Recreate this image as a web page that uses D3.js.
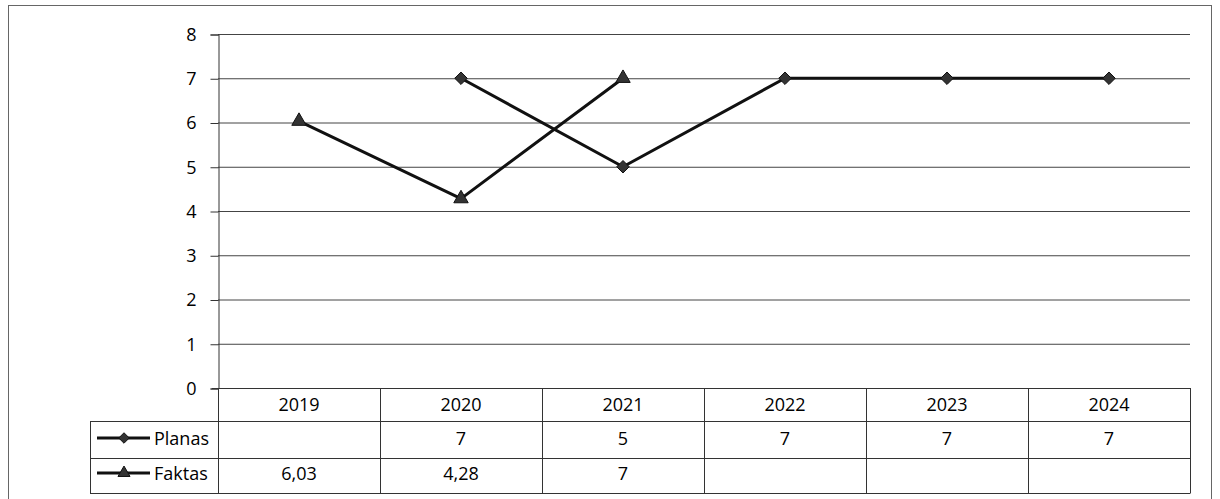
<!DOCTYPE html>
<html>
<head>
<meta charset="utf-8">
<script src="https://cdn.jsdelivr.net/npm/d3@7.9.0/dist/d3.min.js"></script>
<style>
  html, body { margin: 0; padding: 0; background: #fff; }
  svg { display: block; }
  text { font-family: "Open Sans", sans-serif; font-size: 18px; fill: #000; }
</style>
</head>
<body>
<svg id="chart" width="1220" height="499"></svg>
<script>
// === Data ===
const years = ['2019', '2020', '2021', '2022', '2023', '2024'];
const planas = [null, 7, 5, 7, 7, 7];
const faktas = [6.03, 4.28, 7, null, null, null];
const yTicks = [0, 1, 2, 3, 4, 5, 6, 7, 8];

const series = [
  { name: 'Planas', values: planas, marker: d3.symbolDiamond2, size: 100 },
  { name: 'Faktas', values: faktas, marker: d3.symbolTriangle, size: 90 }
];

// === Layout ===
const plotLeft = 218, plotRight = 1190;
const plotTop = 34, plotBottom = 388;
const rowH = 35;
const legendLeft = 90;

const svg = d3.select('#chart');

// outer frame
svg.append('rect')
  .attr('x', 8.5).attr('y', 5.5)
  .attr('width', 1203).attr('height', 510)
  .attr('fill', 'none').attr('stroke', '#666').attr('stroke-width', 1);

const x = d3.scaleBand().domain(years).range([plotLeft, plotRight]);
const y = d3.scaleLinear().domain([0, 8]).range([plotBottom, plotTop]);

// gridlines
svg.append('g')
  .selectAll('line')
  .data(yTicks.filter((t) => t > 0))
  .join('line')
  .attr('x1', plotLeft).attr('x2', plotRight)
  .attr('y1', (d) => y(d) + 0.5).attr('y2', (d) => y(d) + 0.5)
  .attr('stroke', '#444').attr('stroke-width', 1);

// y axis
const yAxis = svg.append('g')
  .attr('transform', `translate(${plotLeft + 0.5},0.5)`)
  .call(d3.axisLeft(y).tickValues(yTicks).tickSize(8).tickPadding(14));
yAxis.select('.domain').attr('stroke', '#333');
yAxis.selectAll('.tick line').attr('stroke', '#333');
yAxis.selectAll('.tick text')
  .style('font-family', '"Open Sans", sans-serif')
  .style('font-size', '18px')
  .attr('fill', '#000');

// === Data table under the plot ===
const table = svg.append('g').attr('stroke', '#333').attr('stroke-width', 1);
const tableBottom = plotBottom + 3 * rowH + 0.5;

// horizontal lines
[0, 1, 2, 3].forEach((i) => {
  const yy = Math.round(plotBottom + i * rowH - (i === 1 ? 2 : 0)) + 0.5;
  table.append('line')
    .attr('x1', i === 0 ? plotLeft - 6 : legendLeft)
    .attr('x2', plotRight)
    .attr('y1', yy).attr('y2', yy);
});
// vertical lines
years.forEach((yr) => {
  table.append('line')
    .attr('x1', x(yr) + x.bandwidth() + 0.5).attr('x2', x(yr) + x.bandwidth() + 0.5)
    .attr('y1', plotBottom).attr('y2', tableBottom);
});
table.append('line')
  .attr('x1', plotLeft + 0.5).attr('x2', plotLeft + 0.5)
  .attr('y1', plotBottom).attr('y2', tableBottom);
table.append('line')
  .attr('x1', legendLeft + 0.5).attr('x2', legendLeft + 0.5)
  .attr('y1', plotBottom + rowH - 2).attr('y2', tableBottom);

// year labels
svg.append('g')
  .selectAll('text')
  .data(years)
  .join('text')
  .attr('x', (d) => x(d) + x.bandwidth() / 2)
  .attr('y', plotBottom + 16)
  .attr('text-anchor', 'middle')
  .attr('dominant-baseline', 'central')
  .text((d) => d);

const fmt = (v) => String(v).replace('.', ',');

series.forEach((s, si) => {
  const rowY = plotBottom + rowH * (si + 1) + 15;

  // values in table row
  svg.append('g')
    .selectAll('text')
    .data(years.map((yr, i) => ({ yr, v: s.values[i] })).filter((d) => d.v !== null))
    .join('text')
    .attr('x', (d) => x(d.yr) + x.bandwidth() / 2)
    .attr('y', rowY)
    .attr('text-anchor', 'middle')
    .attr('dominant-baseline', 'central')
    .text((d) => fmt(d.v));

  // legend key
  svg.append('line')
    .attr('x1', 97).attr('x2', 150)
    .attr('y1', rowY).attr('y2', rowY)
    .attr('stroke', '#111').attr('stroke-width', 3);
  svg.append('path')
    .attr('d', d3.symbol().type(s.marker).size(s.size * 0.7)())
    .attr('transform', `translate(124,${rowY})`)
    .attr('fill', '#333').attr('stroke', '#111').attr('stroke-width', 1);
  svg.append('text')
    .attr('x', 154).attr('y', rowY)
    .attr('dominant-baseline', 'central')
    .text(s.name);
});

// === Lines and markers ===
const line = d3.line()
  .defined((d) => d.v !== null)
  .x((d) => x(d.yr) + x.bandwidth() / 2)
  .y((d) => y(d.v));

series.forEach((s) => {
  const pts = years.map((yr, i) => ({ yr, v: s.values[i] }));
  svg.append('path')
    .datum(pts)
    .attr('d', line)
    .attr('fill', 'none')
    .attr('stroke', '#111')
    .attr('stroke-width', 3)
    .attr('stroke-linejoin', 'round');

  svg.append('g')
    .selectAll('path')
    .data(pts.filter((d) => d.v !== null))
    .join('path')
    .attr('d', d3.symbol().type(s.marker).size(s.size))
    .attr('transform', (d) => `translate(${x(d.yr) + x.bandwidth() / 2},${y(d.v)})`)
    .attr('fill', '#333')
    .attr('stroke', '#111')
    .attr('stroke-width', 1);
});
</script>
</body>
</html>
